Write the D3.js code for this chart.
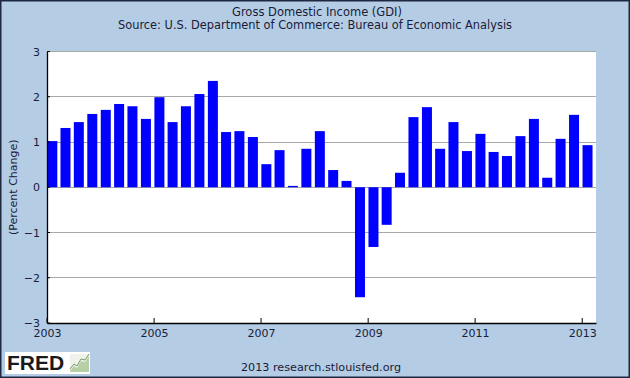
<!DOCTYPE html>
<html><head><meta charset="utf-8">
<script src="https://cdn.jsdelivr.net/npm/d3@7"></script>
<style>body{margin:0;padding:0;background:#fff}svg{display:block}</style>
</head><body>
<script>
const quarters = ["2003-01-01","2003-04-01","2003-07-01","2003-10-01","2004-01-01","2004-04-01","2004-07-01","2004-10-01","2005-01-01","2005-04-01","2005-07-01","2005-10-01","2006-01-01","2006-04-01","2006-07-01","2006-10-01","2007-01-01","2007-04-01","2007-07-01","2007-10-01","2008-01-01","2008-04-01","2008-07-01","2008-10-01","2009-01-01","2009-04-01","2009-07-01","2009-10-01","2010-01-01","2010-04-01","2010-07-01","2010-10-01","2011-01-01","2011-04-01","2011-07-01","2011-10-01","2012-01-01","2012-04-01","2012-07-01","2012-10-01","2013-01-01"];
const gdiChange = [1.02,1.31,1.44,1.62,1.71,1.84,1.79,1.51,1.99,1.44,1.79,2.06,2.35,1.22,1.24,1.11,0.51,0.82,0.03,0.85,1.24,0.38,0.14,-2.43,-1.32,-0.83,0.32,1.55,1.77,0.85,1.44,0.80,1.18,0.78,0.69,1.13,1.51,0.21,1.07,1.60,0.93];
const yTicks = [-3,-2,-1,0,1,2,3];
const xTickYears = [2003,2005,2007,2009,2011,2013];
const title = "Gross Domestic Income (GDI)";
const subtitle = "Source: U.S. Department of Commerce: Bureau of Economic Analysis";
const yLabel = "(Percent Change)";
const footer = "2013 research.stlouisfed.org";

const W = 630, H = 378;
const m = {left:47, right:34, top:51.5, bottom:55};
const font = "'DejaVu Sans', Verdana, sans-serif";
const txt = "#1b1b3a";

const svg = d3.select("body").append("svg").attr("width",W).attr("height",H);
svg.append("rect").attr("x",0.75).attr("y",0.75).attr("width",W-1.5).attr("height",H-1.5)
  .attr("fill","#b4cde4").attr("stroke","#1e2840").attr("stroke-width",1.5);

const parse = d3.utcParse("%Y-%m-%d");
const data = quarters.map((q,i)=>({date:parse(q), v:gdiChange[i]}));

const x = d3.scaleUtc().domain([parse("2003-01-01"), parse("2013-04-05")]).range([m.left, W-m.right]);
const y = d3.scaleLinear().domain([-3,3]).range([H-m.bottom, m.top]);

svg.append("rect").attr("x",m.left).attr("y",m.top).attr("width",W-m.right-m.left).attr("height",H-m.bottom-m.top).attr("fill","#fff");

// gridlines
svg.append("g").selectAll("line").data(yTicks.filter(t=>t>-3)).join("line")
  .attr("x1",m.left).attr("x2",W-m.right).attr("y1",d=>y(d)).attr("y2",d=>y(d))
  .attr("stroke","#a8a8a8").attr("stroke-width",1).attr("shape-rendering","crispEdges");

// bars
const bw = 10;
svg.append("g").selectAll("rect").data(data).join("rect")
  .attr("x",d=>x(d.date)+0.3).attr("width",bw)
  .attr("y",d=>y(Math.max(0,d.v))).attr("height",d=>Math.abs(y(d.v)-y(0)))
  .attr("fill","#0000ff");

// y axis
const ya = d3.axisLeft(y).tickValues(yTicks).tickSize(0).tickPadding(7).tickFormat(d3.format("d"));
const gy = svg.append("g").attr("transform",`translate(${m.left},0)`).call(ya);
gy.select(".domain").attr("stroke","#000").attr("stroke-width",1.3);
gy.selectAll("text").attr("font-family",font).attr("font-size",11).attr("fill",txt);
svg.append("g").selectAll("line").data(yTicks).join("line")
  .attr("x1",m.left).attr("x2",m.left+3).attr("y1",d=>y(d)).attr("y2",d=>y(d)).attr("stroke","#000");

// x axis
const xa = d3.axisBottom(x).tickValues(xTickYears.map(yr=>new Date(Date.UTC(yr,0,1)))).tickSize(0).tickPadding(6).tickFormat(d3.utcFormat("%Y"));
const gx = svg.append("g").attr("transform",`translate(0,${H-m.bottom})`).call(xa);
gx.select(".domain").attr("stroke","#000").attr("stroke-width",1.3);
gx.selectAll("text").attr("font-family",font).attr("font-size",11).attr("fill",txt);
svg.append("g").selectAll("line").data(xTickYears).join("line")
  .attr("x1",d=>x(new Date(Date.UTC(d,0,1)))).attr("x2",d=>x(new Date(Date.UTC(d,0,1))))
  .attr("y1",H-m.bottom).attr("y2",H-m.bottom-5).attr("stroke","#000");

// titles
svg.append("text").attr("x",317).attr("y",16).attr("text-anchor","middle")
  .attr("font-family",font).attr("font-size",11.5).attr("fill",txt).text(title);
svg.append("text").attr("x",315).attr("y",29).attr("text-anchor","middle")
  .attr("font-family",font).attr("font-size",11.4).attr("fill",txt).text(subtitle);
svg.append("text").attr("transform",`translate(17,${(m.top+H-m.bottom)/2}) rotate(-90)`)
  .attr("text-anchor","middle").attr("font-family",font).attr("font-size",11).attr("fill",txt).text(yLabel);
svg.append("text").attr("x",321).attr("y",371).attr("text-anchor","middle")
  .attr("font-family",font).attr("font-size",11.2).attr("fill",txt).text(footer);

// FRED logo
const lg = svg.append("g");
lg.append("rect").attr("x",5).attr("y",352).attr("width",85).attr("height",22).attr("fill","#fff");
lg.append("text").attr("x",7).attr("y",370).attr("font-family","'Liberation Sans', Arial, sans-serif")
  .attr("font-weight","bold").attr("font-size",21).attr("fill","#1a1a1a").text("FRED");
lg.append("rect").attr("x",70).attr("y",354).attr("width",19).attr("height",18).attr("fill","#eef2ea");
lg.append("path").attr("d","M70,371 L74,366 L77,368 L81,361 L85,362 L89,356 L89,372 L70,372 Z").attr("fill","#b6cfa6");
lg.append("path").attr("d","M70,369 L74,364 L77,366 L81,359 L85,360 L89,354").attr("fill","none").attr("stroke","#7a9a68").attr("stroke-width",1);
</script>
</body></html>
